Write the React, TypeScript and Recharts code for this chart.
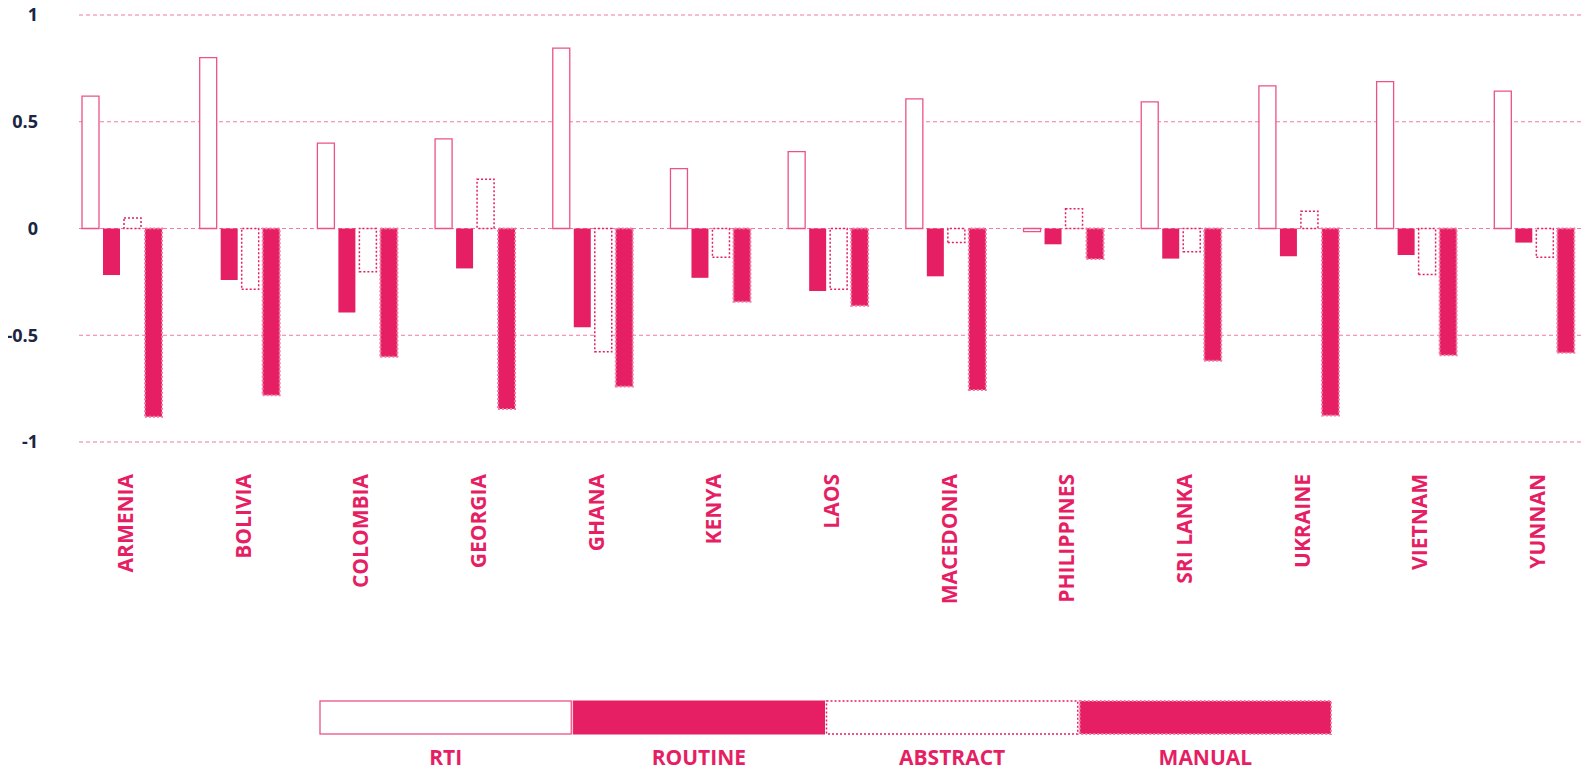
import React from 'react';
import { BarChart, Bar, XAxis, YAxis, CartesianGrid, Legend } from 'recharts';

const countries = ['ARMENIA', 'BOLIVIA', 'COLOMBIA', 'GEORGIA', 'GHANA', 'KENYA', 'LAOS', 'MACEDONIA', 'PHILIPPINES', 'SRI LANKA', 'UKRAINE', 'VIETNAM', 'YUNNAN'];
const rti = [0.62, 0.8, 0.4, 0.42, 0.845, 0.28, 0.36, 0.607, -0.015, 0.593, 0.668, 0.688, 0.643];
const routine = [-0.218, -0.241, -0.393, -0.187, -0.463, -0.231, -0.293, -0.224, -0.074, -0.141, -0.13, -0.124, -0.066];
const abstractVals = [0.049, -0.284, -0.202, 0.231, -0.577, -0.135, -0.285, -0.066, 0.093, -0.109, 0.081, -0.216, -0.135];
const manual = [-0.882, -0.781, -0.601, -0.846, -0.74, -0.343, -0.362, -0.757, -0.143, -0.62, -0.876, -0.594, -0.582];
const yTicks = [-1, -0.5, 0, 0.5, 1];

const PINK = '#e61e63';
const FONT = '"Open Sans", sans-serif';

const series = [
    { key: 'rti', name: 'RTI', fill: '#ffffff', stroke: '#ec5288', strokeWidth: 1.3, dash: undefined },
    { key: 'routine', name: 'ROUTINE', fill: PINK, stroke: 'none', strokeWidth: 0, dash: undefined },
    { key: 'abstract', name: 'ABSTRACT', fill: '#ffffff', stroke: PINK, strokeWidth: 1.5, dash: '2 2' },
    { key: 'manual', name: 'MANUAL', fill: PINK, stroke: '#f27ba3', strokeWidth: 2, dash: '2 2' },
];

const data = countries.map((c, i) => ({
    country: c,
    rti: rti[i],
    routine: routine[i],
    abstract: abstractVals[i],
    manual: manual[i],
}));

const CountryTick = (props: any) => {
    const { x, y, payload } = props;
    return (
        <text
            transform={`translate(${x + 11}, ${y + 32}) rotate(-90)`}
            textAnchor="end"
            fill={PINK}
            fontFamily={FONT}
            fontWeight={700}
            fontSize={21}
        >
            {payload.value}
        </text>
    );
};

// gridlines are a little shorter than the plot area
const GridLine = (props: any) => (
    <line
        key={props.key}
        x1={props.x1 + 16}
        x2={props.x2 - 10}
        y1={props.y1}
        y2={props.y2}
        stroke="#f27aa3"
        strokeWidth={1}
        strokeDasharray="4 3"
    />
);

const LegendBlock = () => {
    const w = 1013;
    const seg = w / series.length;
    return (
        <div style={{ width: w, height: 72, fontFamily: FONT }}>
            <svg width={w} height={36} style={{ display: 'block' }}>
                {series.map((s, i) => (
                    <rect
                        key={s.key}
                        x={i * seg + 1}
                        y={1}
                        width={seg - 2}
                        height={33}
                        fill={s.fill}
                        stroke={s.key === 'routine' ? PINK : s.stroke}
                        strokeWidth={s.key === 'routine' ? 1 : s.strokeWidth}
                        strokeDasharray={s.dash}
                    />
                ))}
            </svg>
            <div style={{ display: 'flex', marginTop: 7 }}>
                {series.map((s) => (
                    <div key={s.key} style={{ width: seg, textAlign: 'center', color: PINK, fontWeight: 700, fontSize: 21, lineHeight: '28px' }}>
                        {s.name}
                    </div>
                ))}
            </div>
        </div>
    );
};

export default function App() {
    return (
        <div style={{ marginLeft: -8, marginTop: -8 }}>
            <BarChart
                width={1593}
                height={780}
                data={data}
                margin={{ top: 15, right: 0, left: 8, bottom: 8 }}
                barSize={17}
                barGap={4}
            >
                <CartesianGrid vertical={false} horizontal={GridLine} />
                <XAxis
                    dataKey="country"
                    axisLine={false}
                    tickLine={false}
                    tickSize={0}
                    tickMargin={0}
                    interval={0}
                    height={258}
                    tick={<CountryTick />}
                />
                <YAxis
                    type="number"
                    domain={[-1, 1]}
                    ticks={yTicks}
                    width={55}
                    axisLine={false}
                    tickLine={false}
                    tickSize={0}
                    tickMargin={25}
                    tick={{ fill: '#1c2541', fontFamily: FONT, fontWeight: 700, fontSize: 18 }}
                />
                <Legend
                    verticalAlign="bottom"
                    content={<LegendBlock />}
                    wrapperStyle={{ left: 319, width: 1013 }}
                />
                {series.map((s) => (
                    <Bar
                        key={s.key}
                        dataKey={s.key}
                        name={s.name}
                        fill={s.fill}
                        stroke={s.stroke}
                        strokeWidth={s.strokeWidth}
                        strokeDasharray={s.dash}
                        isAnimationActive={false}
                    />
                ))}
            </BarChart>
        </div>
    );
}
